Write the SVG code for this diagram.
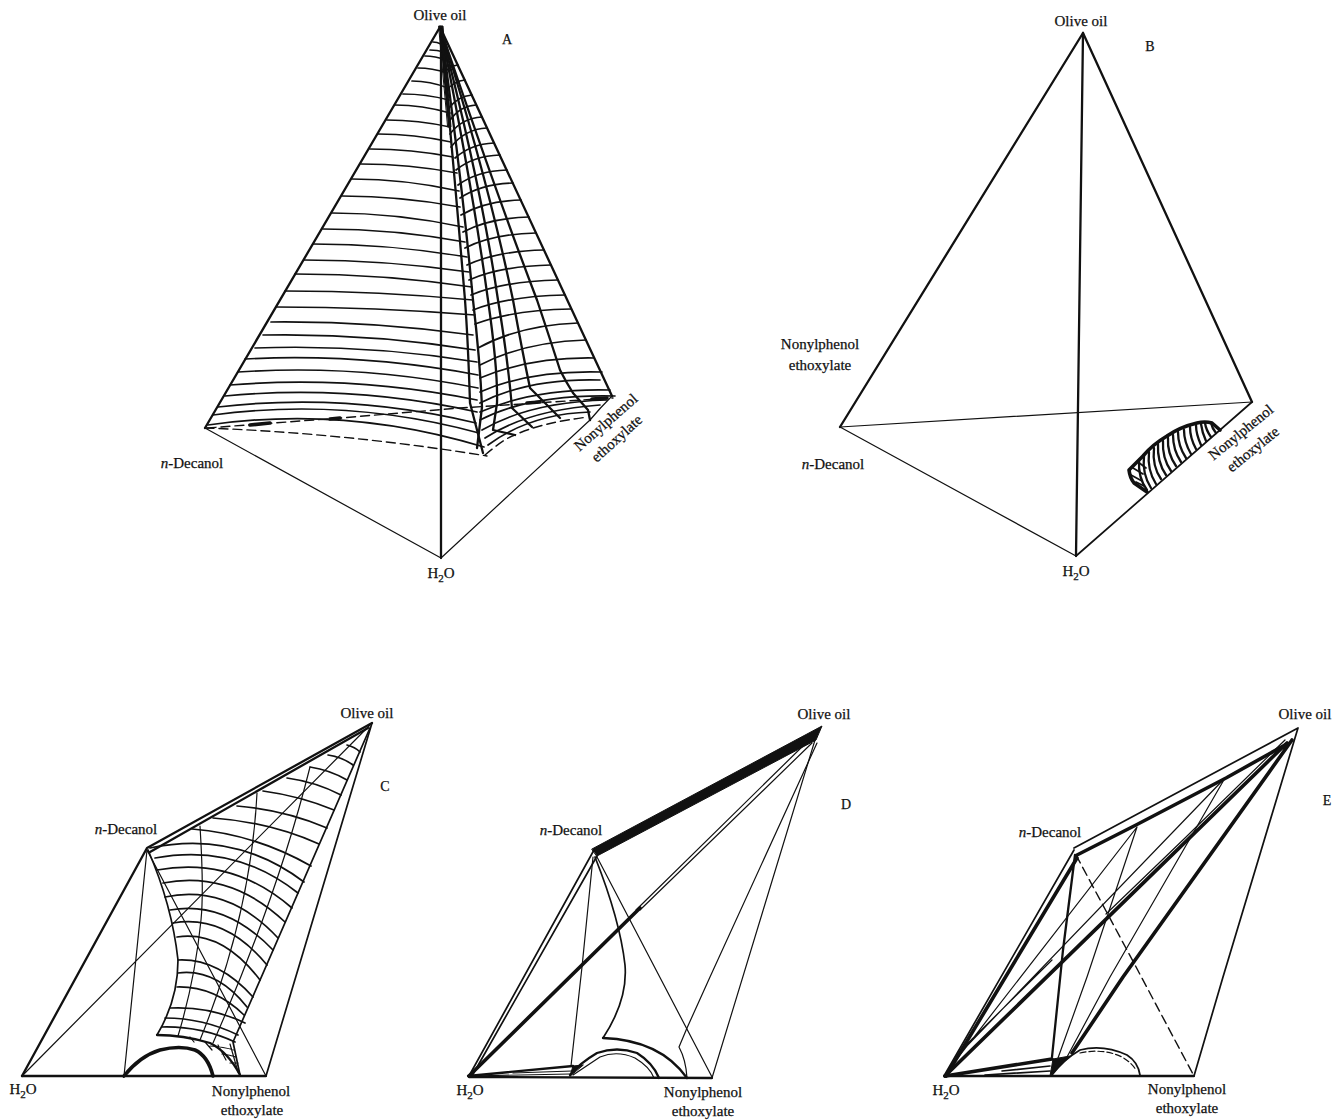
<svg xmlns="http://www.w3.org/2000/svg" width="1340" height="1120" viewBox="0 0 1340 1120">
<style>
text{font-family:"Liberation Serif","Times New Roman",serif;font-size:15px;fill:#111;stroke:#111;stroke-width:.25;text-anchor:middle}
.s{font-size:14px}
.sub{font-size:11px}
path,line{fill:none;stroke:#111;stroke-linecap:round;stroke-linejoin:round}
.t{stroke-width:1.2}
.m{stroke-width:1.7}
.h{stroke-width:2.3}
.k{stroke-width:3.6}
.x{stroke-width:4.5}
.d{stroke-width:1.4;stroke-dasharray:9 5}
.f{fill:#111;stroke:#111;stroke-width:1}
</style>
<rect width="1340" height="1120" fill="#fff"/>

<g id="panel-A">
<g id="A-edges">
<path class="h" d="M440 27L205 428M440 27L612 396M441 27V558"/>
<path class="t" d="M205 428L441 558M441 558L590 420Q600 408 612 396"/>
<path class="f" d="M439 26L443 26L451 127L448 127Z"/>
</g>
<g id="A-left-grid">
<path class="m" d="M433 42Q437 42 441 44M430 50Q437 50 444 52M425 56Q435 56 446 60M418 68Q432 68 447 73M412 81Q430 81 448 88M403 94Q426 94 449 100M395 105Q422 105 450 113M387 120Q418 120 450 127M378 134Q414 134 451 142M370 149Q411 149 453 157M361 164Q409 164 457 173M352 179Q405 179 459 191M342 196Q401 196 460 207M332 213Q397 213 463 227M323 229Q394 229 465 242M313 244Q390 244 467 257M304 260Q386 260 469 272M295 274Q383 274 472 287M285 291Q379 291 473 300M276 307Q375 307 475 315M271 322Q372 321 473 335M263 335Q369 333 475 350M255 348Q366 344 477 362M245 359Q361 353 478 375M238 372Q358 364 478 388M230 385Q353 375 477 400M225 396Q351 384 477 412M218 407Q347 392 476 423M213 415Q346 397 479 433M208 425Q346 405 484 447"/>
<path class="d" d="M205 428Q345 433 487 456"/>
<path class="d" d="M207 428L340 418L460 408L613 398"/>
<path class="k" d="M592 399L607 398M527 403L540 402M250 425L270 423M330 419L340 418"/>
</g>
<g id="A-right-grid">
<path class="m" d="M445 72Q450 66 458 65M447 90Q454 81 465 80M449 108Q458 96 472 95M450 120Q460 106 476 105M450 134Q462 118 482 117M451 147Q465 129 487 128M455 158Q471 144 494 143M456 170Q473 156 500 155M458 185Q477 171 507 170M460 198Q481 184 513 183M461 215Q485 201 521 200M463 232Q489 218 529 217M465 248Q493 234 536 233M467 265Q497 251 544 250M469 280Q501 266 551 265M471 295Q505 281 558 280M473 310Q509 296 565 295M475 324Q513 310 571 309M478 348Q520 325 578 323M480 365Q524 342 586 340M480 378Q530 357 594 358M480 392Q530 370 602 372M480 403Q530 378 600 380M480 412Q535 388 610 390M480 420Q530 394 615 396M482 430Q530 402 607 400M485 438Q528 410 600 405M488 445Q530 414 590 412"/>
<path class="d" d="M485 455Q505 438 515 435Q540 423 588 417"/>
<path class="h" d="M441 30Q455 180 465 300Q468 340 470 403L483 453"/>
<path class="h" d="M441 30Q462 180 473 300Q480 360 482 407L477 448"/>
<path class="h" d="M441 30Q473 190 488 300Q498 370 497 403L493 430L515 435"/>
<path class="h" d="M441 30Q482 190 498 300Q508 360 512 408L532 427"/>
<path class="h" d="M441 30Q488 180 513 300Q522 350 530 388L545 403L560 418"/>
<path class="h" d="M441 30Q495 190 537 300Q552 345 560 370Q566 382 573 393L588 410L590 420"/>
</g>
<g id="A-labels">
<text x="440" y="20">Olive oil</text>
<text class="s" x="507" y="44">A</text>
<text x="192" y="468"><tspan font-style="italic">n</tspan>-Decanol</text>
<text x="441" y="578">H<tspan class="sub" dy="4">2</tspan><tspan dy="-4">O</tspan></text>
<text transform="translate(609 426) rotate(-41)">Nonylphenol</text>
<text transform="translate(620 442) rotate(-42)">ethoxylate</text>
</g>
</g>

<g id="panel-B">
<g id="B-edges">
<path class="h" d="M1083 33L840 427M1083 33L1252 402"/>
<path class="m" d="M1252 402L1076 556"/>
<path class="h" d="M1083 33L1076 556"/>
<path class="t" d="M840 427L1252 402M840 427L1076 556"/>
</g>
<g id="B-lobe">
<path class="k" d="M1220 430L1212 423Q1205 421 1197 423Q1180 427 1167 436Q1152 445 1143 456L1129 470Q1130 478 1134 483L1147 492"/>
<path class="h" d="M1216 433Q1212 428 1211 423M1211 437Q1206 430 1205 423M1206 441Q1202 432 1201 424M1201 445Q1196 434 1196 425M1196 449Q1190 438 1190 427M1191 454Q1184 442 1184 430M1186 458Q1178 446 1178 432M1181 462Q1173 450 1173 435M1176 466Q1167 453 1168 438M1171 471Q1162 458 1163 441M1166 475Q1157 462 1158 444M1161 479Q1152 466 1154 448M1156 484Q1147 470 1149 452M1151 488Q1142 474 1144 456M1147 490Q1138 478 1139 460"/>
<path class="m" d="M1133 468L1143 474M1131 475L1142 481M1136 482L1144 486M1138 462L1146 468"/>
</g>
<g id="B-labels">
<text x="1081" y="26">Olive oil</text>
<text class="s" x="1150" y="51">B</text>
<text x="820" y="349">Nonylphenol</text>
<text x="820" y="370">ethoxylate</text>
<text x="833" y="469"><tspan font-style="italic">n</tspan>-Decanol</text>
<text x="1076" y="576">H<tspan class="sub" dy="4">2</tspan><tspan dy="-4">O</tspan></text>
<text transform="translate(1244 436) rotate(-39)">Nonylphenol</text>
<text transform="translate(1256 453) rotate(-39)">ethoxylate</text>
</g>
</g>

<g id="panel-C">
<g id="C-edges">
<path class="h" d="M147 848L372 723M147 848L22 1076"/>
<path class="m" d="M372 723L266 1076"/>
<path class="h" d="M150 852L368 728M22 1076H266"/>
<path class="t" d="M22 1076L372 723M147 850L266 1076M147 850L124 1076"/>
</g>
<g id="C-surface">
<path class="k" d="M124 1076Q140 1056 160 1050Q180 1045 195 1050Q208 1056 213 1076"/>
<path class="h" d="M157 1035Q183 1035 210 1043Q228 1052 240 1075"/>
<path class="m" d="M148 850Q172 905 178 960Q178 1000 157 1035M370 728L233 1042L240 1075"/>
<path class="t" d="M200 826Q204 890 201 920Q195 980 178 1036M257 793Q251 914 200 1040M310 767Q278 895 213 1043"/>
<path class="m" d="M347 745Q355 747 360 752M328 755Q342 757 353 765M310 767Q330 770 347 780M287 778Q316 782 341 795M263 791Q300 796 334 810M237 806Q285 810 327 828M213 818Q270 822 319 844M192 829Q255 834 311 866M150 848Q235 830 304 882M155 858Q235 843 298 893M157 870Q232 856 292 908M163 883Q230 870 285 922M165 897Q228 884 278 938M170 910Q225 900 273 950M173 923Q225 914 267 965M177 937Q222 930 260 980M178 960Q218 958 253 997M178 973Q216 968 247 1007M177 987Q214 986 244 1015M170 1008Q210 1006 245 1023M165 1018Q203 1018 238 1035M162 1027Q200 1026 235 1042"/>
<path class="t" d="M190 1037L194 1042M205 1042L212 1050M218 1045L226 1060M230 1044L238 1072M210 1046Q224 1047 234 1050M222 1054Q230 1055 236 1057M230 1063L238 1063"/>
</g>
<g id="C-labels">
<text x="367" y="718">Olive oil</text>
<text class="s" x="385" y="791">C</text>
<text x="126" y="834"><tspan font-style="italic">n</tspan>-Decanol</text>
<text x="23" y="1094">H<tspan class="sub" dy="4">2</tspan><tspan dy="-4">O</tspan></text>
<text x="251" y="1096">Nonylphenol</text>
<text x="252" y="1115">ethoxylate</text>
</g>
</g>

<g id="panel-D">
<g id="D-edges">
<path class="f" d="M592 849L822 726L816 740L597 856Z"/>
<path class="m" d="M594 850L469 1076M597 856L472 1076"/>
<path class="h" d="M469 1077L712 1078"/>
<path class="k" d="M469 1076L640 908"/>
<path class="t" d="M636 910L808 741M640 910L812 743M597 857L712 1077M815 740L712 1078"/>
<path class="t" d="M593 857L582 967L571 1066"/>
<path class="m" d="M595 857Q620 920 625 965Q628 1000 603 1038"/>
<path class="h" d="M603 1038Q660 1040 687 1078"/>
<path class="t" d="M817 743L710 977L687 1028L679 1047Q686 1060 687 1078"/>
</g>
<g id="D-base">
<path class="h" d="M570 1075Q580 1063 597 1053Q617 1046 637 1053Q653 1063 659 1078"/>
<path class="t" d="M573 1075Q585 1067 600 1057Q617 1050 635 1058Q650 1067 654 1078"/>
<path class="h" d="M468 1076L573 1066"/>
<path class="t" d="M513 1073L572 1071M470 1076L570 1074"/>
<path class="f" d="M570 1076L573 1066L583 1065Z"/>
</g>
<g id="D-labels">
<text x="824" y="719">Olive oil</text>
<text class="s" x="846" y="809">D</text>
<text x="571" y="835"><tspan font-style="italic">n</tspan>-Decanol</text>
<text x="470" y="1095">H<tspan class="sub" dy="4">2</tspan><tspan dy="-4">O</tspan></text>
<text x="703" y="1097">Nonylphenol</text>
<text x="703" y="1116">ethoxylate</text>
</g>
</g>

<g id="panel-E">
<g id="E-edges">
<path class="m" d="M1074 848L1298 728M1074 850L944 1076M1298 728L1223 977L1194 1076"/>
<path class="k" d="M1077 855L1136 825L1226 778L1285 745M1077 858L946 1076"/>
<path class="h" d="M1075 855L1063 950L1052 1057"/>
<path class="k" d="M945 1076L1287 743M1292 740L1123 977L1072 1053"/>
<path class="t" d="M1106 914L1185 838L1285 740"/>
<path class="t" d="M950 1068L1137 827L1087 977L1058 1058M963 1050L1225 778L1110 977L1067 1057M963 1048L1052 960"/>
<path class="h" d="M945 1076H1194"/>
</g>
<g id="E-dashed">
<path class="d" stroke-dasharray="20 10" d="M1076 855L1135 965L1194 1076"/>
</g>
<g id="E-base">
<path class="m" d="M1052 1075Q1063 1060 1080 1050Q1103 1044 1127 1055Q1138 1062 1140 1075"/>
<path class="t" stroke-dasharray="6 3" d="M1080 1053Q1103 1048 1122 1057Q1132 1063 1136 1070"/>
<path class="k" d="M945 1076L1052 1059"/>
<path class="m" d="M985 1075L1050 1071M1002 1071L1050 1066"/>
<path class="f" d="M1050 1076L1053 1059L1070 1056Z"/>
</g>
<g id="E-labels">
<text x="1305" y="719">Olive oil</text>
<text class="s" x="1327" y="805">E</text>
<text x="1050" y="837"><tspan font-style="italic">n</tspan>-Decanol</text>
<text x="946" y="1095">H<tspan class="sub" dy="4">2</tspan><tspan dy="-4">O</tspan></text>
<text x="1187" y="1094">Nonylphenol</text>
<text x="1187" y="1113">ethoxylate</text>
</g>
</g>
</svg>
